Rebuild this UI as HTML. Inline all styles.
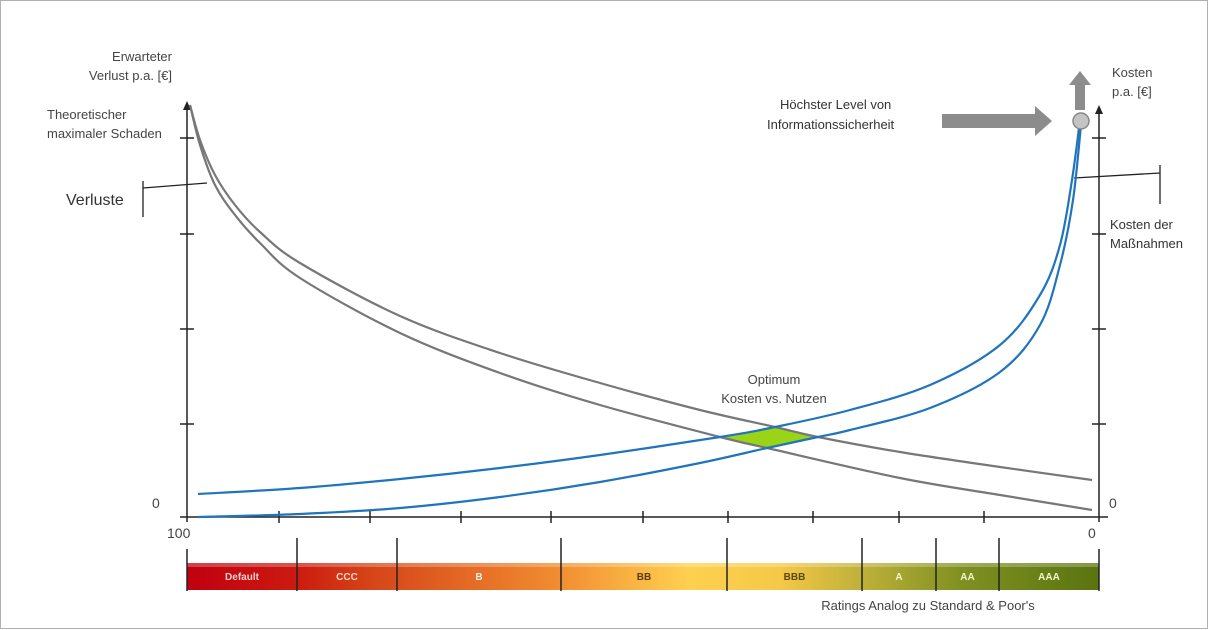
<!DOCTYPE html>
<html><head><meta charset="utf-8">
<style>
html,body{margin:0;padding:0;background:#fff;}
svg{display:block;font-family:"Liberation Sans",sans-serif;}
</style></head>
<body>
<svg id="chart" width="1209" height="630" viewBox="0 0 1209 630" xmlns="http://www.w3.org/2000/svg">
<defs>
<linearGradient id="rg" x1="0" x2="1" y1="0" y2="0">
<stop offset="0" stop-color="#c00010"/>
<stop offset="0.12" stop-color="#cc1a10"/>
<stop offset="0.2" stop-color="#d54418"/>
<stop offset="0.4" stop-color="#f08a30"/>
<stop offset="0.55" stop-color="#ffd050"/>
<stop offset="0.65" stop-color="#f5c848"/>
<stop offset="0.75" stop-color="#b8ae38"/>
<stop offset="0.85" stop-color="#7f9020"/>
<stop offset="1" stop-color="#5a7410"/>
</linearGradient>
</defs>
<rect x="0.5" y="0.5" width="1207" height="628" fill="#fff" stroke="#b0b0b0"/>
<g id="axes" stroke="#222" stroke-width="1.5" fill="none"></g>
<g id="curves"></g>
<g id="ratings"></g>
<g id="labels" fill="#444" font-size="13"></g>
</svg>
<script>
const grayUpperX=[190,200,215,235,260,300,400,500,600,700,775,818,900,1000,1092];
const grayUpperY=[105,140,175,205,232,263,316,353,383,410,427,437,452,467,480];
const grayLowerX=[190,200,215,235,260,300,400,500,600,720,767,900,1000,1092];
const grayLowerY=[105,145,185,215,243,278,333,373,405,437,448,478,495,510];
const blueUpperX=[198,300,400,500,600,720,775,850,930,1000,1040,1060,1072,1080];
const blueUpperY=[494,488,479,468,455,437,427,410,385,345,295,245,180,120];
const blueLowerX=[198,300,400,500,600,700,767,818,850,930,1000,1040,1060,1073,1081];
const blueLowerY=[517,514,508,497,482,463,448,437,430,408,372,325,265,200,125];
const ratingNames=["Default","CCC","B","BB","BBB","A","AA","AAA"];
const ratingBounds=[187,297,397,561,727,862,936,999,1099];
const ratingTextColors=["#f0d0d0","#f5d8c8","#fff0e0","#5a3a10","#5a4a10","#f4f4d0","#f0f4d0","#f0f4d0"];
const xTicks=[279,370,461,551,643,728,813,899,984];
const yTicks=[138,234,329,424];

const NS="http://www.w3.org/2000/svg";
function mk(t,a,p){const e=document.createElementNS(NS,t);for(const k in a)e.setAttribute(k,a[k]);p.appendChild(e);return e;}
function smooth(xs,ys){let d="M"+xs[0]+","+ys[0];for(let i=0;i<xs.length-1;i++){const x0=xs[i-1]??xs[i],y0=ys[i-1]??ys[i],x3=xs[i+2]??xs[i+1],y3=ys[i+2]??ys[i+1];const c1x=xs[i]+(xs[i+1]-x0)/6,c1y=ys[i]+(ys[i+1]-y0)/6,c2x=xs[i+1]-(x3-xs[i])/6,c2y=ys[i+1]-(y3-ys[i])/6;d+=` C${c1x},${c1y} ${c2x},${c2y} ${xs[i+1]},${ys[i+1]}`;}return d;}

const ax=document.getElementById("axes");
let e;
e=mk("line",{x1:187,y1:108,x2:187,y2:522},ax);
e=mk("line",{x1:1099,y1:112,x2:1099,y2:522},ax);
e=mk("line",{x1:180,y1:517,x2:1108,y2:517},ax);
e=mk("polygon",{points:"183,110 187,101 191,110",fill:"#222",stroke:"none"},ax);
e=mk("polygon",{points:"1095,114 1099,105 1103,114",fill:"#222",stroke:"none"},ax);
yTicks.forEach(y=>{e=mk("line",{x1:180,y1:y,x2:194,y2:y},ax);
 e=mk("line",{x1:1092,y1:y,x2:1106,y2:y},ax);});
xTicks.forEach(x=>{e=mk("line",{x1:x,y1:511,x2:x,y2:523},ax);});
e=mk("path",{d:"M143,181 V217 M143,188 L207,183",stroke:"#222","stroke-width":1.3},ax);
e=mk("path",{d:"M1160,165 V204 M1074,178 L1160,173",stroke:"#222","stroke-width":1.3},ax);

const cv=document.getElementById("curves");
e=mk("polygon",{points:"720,437 775,427 818,437 767,448",fill:"#9ad416",stroke:"none"},cv);
e=mk("path",{d:smooth(grayUpperX,grayUpperY),fill:"none",stroke:"#777","stroke-width":2.2},cv);
e=mk("path",{d:smooth(grayLowerX,grayLowerY),fill:"none",stroke:"#777","stroke-width":2.2},cv);
e=mk("path",{d:smooth(blueUpperX,blueUpperY),fill:"none",stroke:"#1f74bd","stroke-width":2.2},cv);
e=mk("path",{d:smooth(blueLowerX,blueLowerY),fill:"none",stroke:"#1f74bd","stroke-width":2.2},cv);
e=mk("polygon",{points:"942,114 1035,114 1035,106 1052,121 1035,136 1035,128 942,128",fill:"#8c8c8c"},cv);
e=mk("polygon",{points:"1075,110 1075,85 1069,85 1080,71 1091,85 1085,85 1085,110",fill:"#8c8c8c"},cv);
e=mk("circle",{cx:1081,cy:121,r:8,fill:"#c4c4c4",stroke:"#888","stroke-width":1.5},cv);

const rt=document.getElementById("ratings");
e=mk("rect",{x:187,y:563,width:912,height:27,fill:"url(#rg)"},rt);
e=mk("rect",{x:187,y:563,width:912,height:4,fill:"#fff",opacity:0.25},rt);
ratingNames.forEach((n,i)=>{const x0=ratingBounds[i],x1=ratingBounds[i+1];
 const t=mk("text",{x:(x0+x1)/2,y:580,"text-anchor":"middle","font-size":10,"font-weight":"bold",fill:ratingTextColors[i]},rt);t.textContent=n;
 });
ratingBounds.forEach(x=>{e=mk("line",{x1:x,y1:x==187||x==1099?549:538,x2:x,y2:591,stroke:"#222","stroke-width":1.5},rt);});

const lb=document.getElementById("labels");
function txt(s,x,y,opts,name){const t=mk("text",Object.assign({x:x,y:y},opts||{}),lb);t.textContent=s;return t;}
txt("Erwarteter",172,61,{"text-anchor":"end"},"left-axis-title");
txt("Verlust p.a. [€]",172,80,{"text-anchor":"end"},"left-axis-title-2");
txt("Theoretischer",47,119,{},"max-damage-label");
txt("maximaler Schaden",47,138,{},"max-damage-label-2");
txt("Verluste",66,205,{"font-size":16,fill:"#333"},"verluste-label");
txt("0",152,508,{"font-size":14},"left-zero");
txt("100",167,538,{"font-size":14},"x-start-label");
txt("0",1088,538,{"font-size":14},"x-end-label");
txt("0",1109,508,{"font-size":14},"right-zero");
txt("Kosten",1112,77,{},"right-axis-title");
txt("p.a. [€]",1112,96,{},"right-axis-title-2");
txt("Höchster Level von",780,109,{fill:"#333"},"highest-level-label");
txt("Informationssicherheit",767,129,{fill:"#333"},"highest-level-label-2");
txt("Kosten der",1110,229,{fill:"#333"},"measures-cost-label");
txt("Maßnahmen",1110,248,{fill:"#333"},"measures-cost-label-2");
txt("Optimum",774,384,{"text-anchor":"middle"},"optimum-label");
txt("Kosten vs. Nutzen",774,403,{"text-anchor":"middle"},"optimum-label-2");
txt("Ratings Analog zu Standard & Poor's",928,610,{"text-anchor":"middle"},"ratings-caption");
</script>
</body></html>
